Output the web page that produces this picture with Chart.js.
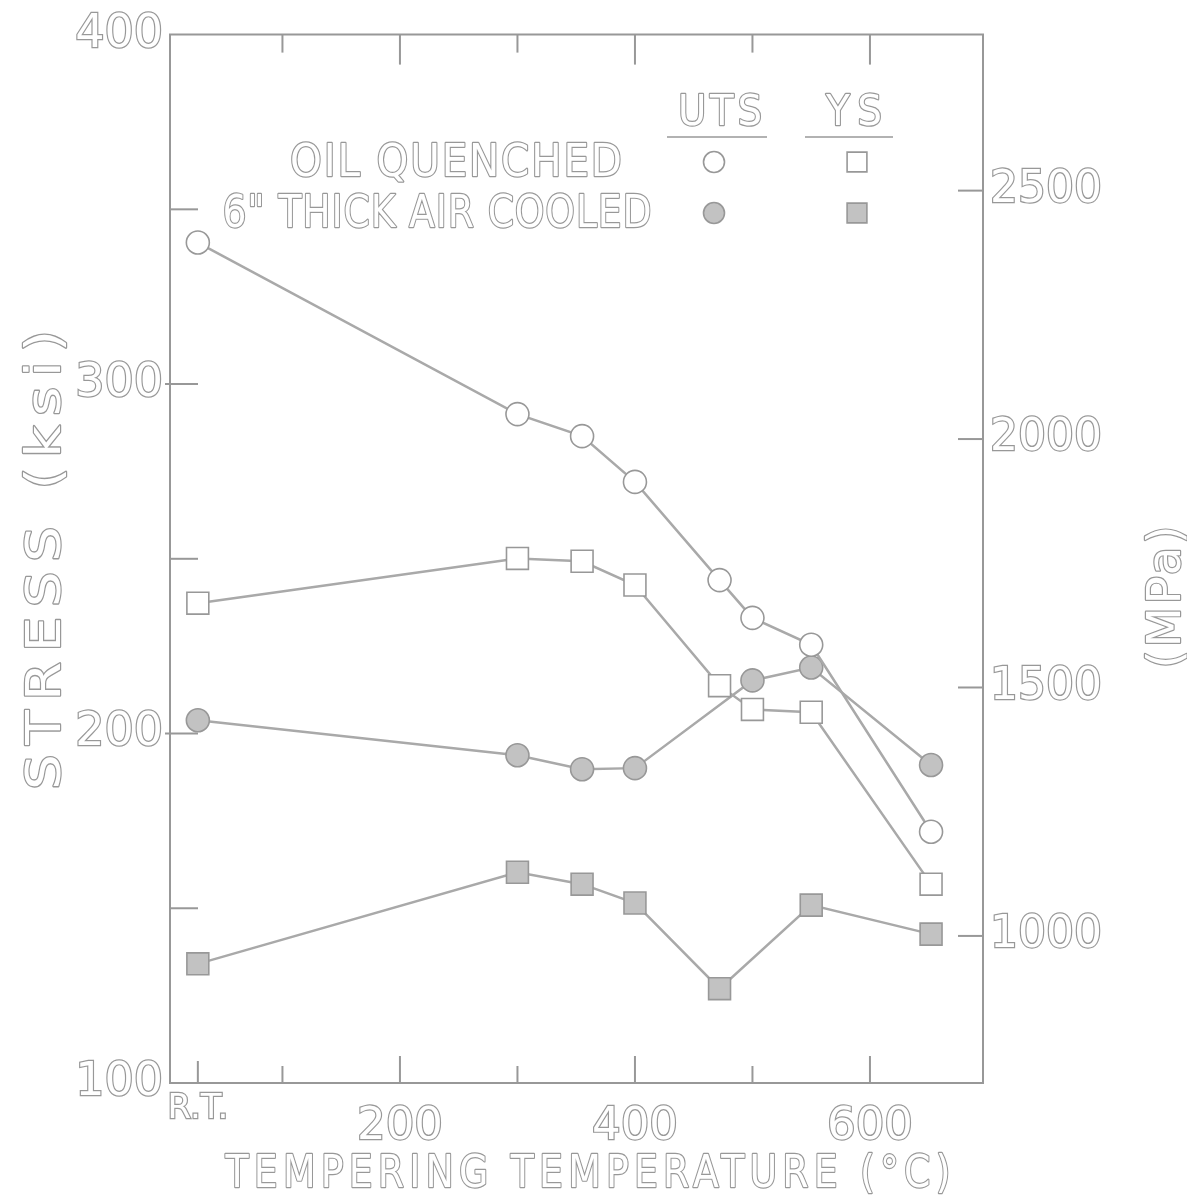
<!DOCTYPE html>
<html>
<head>
<meta charset="utf-8">
<title>Stress vs tempering temperature</title>
<script src="https://cdn.jsdelivr.net/npm/chart.js@4/dist/chart.umd.min.js"></script>
<style>
    html, body { margin: 0; padding: 0; background: #fff; }
    canvas { display: block; }
</style>
</head>
<body>
<canvas id="stress-chart" width="1187" height="1201"></canvas>
<script>
// Tempering temperatures in deg C (first one is room temperature)
const tempC = [28, 300, 355, 400, 472, 500, 550, 652];

// Strength in ksi, null where there is no test
const oilUts = [340.5, 291.4, 285.1, 272.0, 243.9, 233.1, 225.4, 171.9];
const oilYs = [237.3, 250.1, 249.3, 242.5, 213.7, 206.9, 206.1, 156.9];
const airUts = [203.8, 193.8, 189.8, 190.1, null, 215.2, 218.9, 191.0];
const airYs = [134.1, 160.3, 156.9, 151.5, 127.0, null, 150.9, 142.6];

// Axis ticks and labels
const ksiTicks = [100, 150, 200, 250, 300, 350, 400];
const ksiLabels = [100, 200, 300, 400];
const mpaTicks = [1000, 1500, 2000, 2500];
const tempTicks = [28, 100, 200, 300, 400, 500, 600];
const tempLabels = { 28: 'R.T.', 200: '200', 400: '400', 600: '600' };

const INK = '#989898';
const LINE = '#a9a9a9';
const DOT = '#c2c2c2';
const FONT = '"DejaVu Sans", "Liberation Sans", sans-serif';

// Pair each value with its temperature, skipping missing tests
function points(vals) {
    return tempC
        .map((t, i) => ({ x: t, y: vals[i] }))
        .filter(p => p.y !== null);
}

function makeSeries(label, vals, style, filled) {
    return {
        label: label,
        data: points(vals),
        xAxisID: 'x',
        yAxisID: 'ksi',
        borderColor: LINE,
        borderWidth: 2.5,
        pointStyle: style,
        pointRadius: style === 'rect' ? 15.5 : 11.5,
        pointBorderColor: INK,
        pointBorderWidth: 1.6,
        pointBackgroundColor: filled ? DOT : '#fff',
        tension: 0,
        fill: false
    };
}

// Outlined lettering squeezed or spread to a given width
function hollowText(ctx, text, cx, cy, size, width, angle, spacing) {
    ctx.save();
    ctx.translate(cx, cy);
    if (angle) ctx.rotate(angle);
    ctx.font = size + 'px ' + FONT;
    ctx.letterSpacing = (spacing || 0) + 'px';
    // trailing spacing after the last letter is not part of the word
    const natural = ctx.measureText(text).width - (spacing || 0);
    const sx = width / natural;
    ctx.scale(sx, 1);
    const base = size * 0.365;
    ctx.textAlign = 'left';
    ctx.textBaseline = 'alphabetic';
    ctx.lineJoin = 'round';
    ctx.lineWidth = 2.4;
    ctx.strokeStyle = INK;
    ctx.strokeText(text, -natural / 2, base);
    ctx.fillStyle = '#fff';
    ctx.fillText(text, -natural / 2, base);
    ctx.restore();
}

function line(ctx, x1, y1, x2, y2) {
    ctx.beginPath();
    ctx.moveTo(x1, y1);
    ctx.lineTo(x2, y2);
    ctx.stroke();
}

// Frame top, inward tick marks, titles and the key
const decorations = {
    id: 'decorations',
    afterDraw(chart) {
        const ctx = chart.ctx;
        const area = chart.chartArea;
        const x = chart.scales.x;
        const ksi = chart.scales.ksi;
        const mpa = chart.scales.mpa;

        ctx.save();
        ctx.strokeStyle = INK;
        ctx.lineWidth = 2;
        line(ctx, area.left - 1, area.top, area.right + 1, area.top);

        tempTicks.forEach(v => {
            const px = x.getPixelForValue(v);
            const big = v % 200 === 0;
            const lenBottom = v === tempTicks[0] ? 22 : (big ? 27 : 17);
            line(ctx, px, area.bottom, px, area.bottom - lenBottom);
            if (v !== tempTicks[0]) {
                line(ctx, px, area.top, px, area.top + (big ? 30 : 18));
            }
        });

        ksiTicks.forEach(v => {
            if (v === ksi.min || v === ksi.max) return;
            const py = ksi.getPixelForValue(v);
            const start = ksiLabels.includes(v) ? area.left - 5 : area.left;
            line(ctx, start, py, area.left + 28, py);
        });

        mpaTicks.forEach(v => {
            const py = mpa.getPixelForValue(v);
            line(ctx, area.right - 25, py, area.right, py);
        });

        // Axis titles
        hollowText(ctx, 'STRESS (ksi)', 42, 560, 48, 460, -Math.PI / 2, 8);
        hollowText(ctx, '(MPa)', 1163, 597, 46, 143, -Math.PI / 2, 3);
        hollowText(ctx, 'TEMPERING TEMPERATURE (\u00B0C)', 588, 1171, 44, 725, 0, 6);

        // Key
        hollowText(ctx, 'UTS', 720, 110, 42, 84, 0, 4);
        hollowText(ctx, 'YS', 854, 110, 42, 56, 0, 8);
        ctx.lineWidth = 1.5;
        line(ctx, 667, 137, 767, 137);
        line(ctx, 805, 137, 893, 137);
        hollowText(ctx, 'OIL QUENCHED', 456, 160, 44, 332, 0, 2);
        hollowText(ctx, '6" THICK AIR COOLED', 437, 211, 44, 429, 0, 1);

        const keyMarks = [
            [714, 162, 'circle', false],
            [857, 162, 'rect', false],
            [714, 213, 'circle', true],
            [857, 213, 'rect', true]
        ];
        keyMarks.forEach(([kx, ky, style, filled]) => {
            ctx.fillStyle = filled ? DOT : '#fff';
            ctx.strokeStyle = INK;
            ctx.lineWidth = 1.6;
            Chart.helpers.drawPoint(ctx, {
                pointStyle: style,
                radius: style === 'rect' ? 14 : 10.5,
                rotation: 0,
                borderWidth: 1.6
            }, kx, ky);
        });
        ctx.restore();
    }
};

const tickText = {
    color: '#fff',
    textStrokeColor: INK,
    textStrokeWidth: 2.4
};

new Chart(document.getElementById('stress-chart'), {
    type: 'line',
    data: {
        datasets: [
            makeSeries('Oil quenched UTS', oilUts, 'circle', false),
            makeSeries('Oil quenched YS', oilYs, 'rect', false),
            makeSeries('Air cooled UTS', airUts, 'circle', true),
            makeSeries('Air cooled YS', airYs, 'rect', true)
        ]
    },
    options: {
        responsive: false,
        devicePixelRatio: 1,
        animation: false,
        layout: { autoPadding: false, padding: { top: 28, left: 0, right: 0, bottom: 0 } },
        plugins: {
            legend: { display: false },
            tooltip: { enabled: false }
        },
        scales: {
            x: {
                type: 'linear',
                position: 'bottom',
                min: 4.3,
                max: 696.2,
                grid: { display: false, drawTicks: false },
                border: { color: INK, width: 2 },
                afterBuildTicks: s => { s.ticks = tempTicks.map(v => ({ value: v })); },
                afterFit: s => { s.height = 118; },
                ticks: Object.assign({
                    autoSkip: false,
                    maxRotation: 0,
                    padding: 8,
                    callback: v => tempLabels[v] || '',
                    font: c => c.tick && c.tick.value === tempTicks[0]
                        ? { family: FONT, size: 34, lineHeight: 1.09 }
                        : { family: FONT, size: 45, lineHeight: 1.6 }
                }, tickText)
            },
            ksi: {
                type: 'linear',
                position: 'left',
                min: 100,
                max: 400,
                grid: { display: false, drawTicks: false },
                border: { color: INK, width: 2 },
                afterBuildTicks: s => { s.ticks = ksiTicks.map(v => ({ value: v })); },
                afterFit: s => { s.width = 170; },
                ticks: Object.assign({
                    padding: 7,
                    callback: v => ksiLabels.includes(v) ? String(v) : '',
                    font: { family: FONT, size: 46 }
                }, tickText)
            },
            mpa: {
                type: 'linear',
                position: 'right',
                min: 704,
                max: 2814,
                grid: { display: false, drawTicks: false },
                border: { color: INK, width: 2 },
                afterBuildTicks: s => { s.ticks = mpaTicks.map(v => ({ value: v })); },
                afterFit: s => { s.width = 204; },
                ticks: Object.assign({
                    padding: 7,
                    callback: v => String(v),
                    font: { family: FONT, size: 44 }
                }, tickText)
            }
        }
    },
    plugins: [decorations]
});
</script>
</body>
</html>
